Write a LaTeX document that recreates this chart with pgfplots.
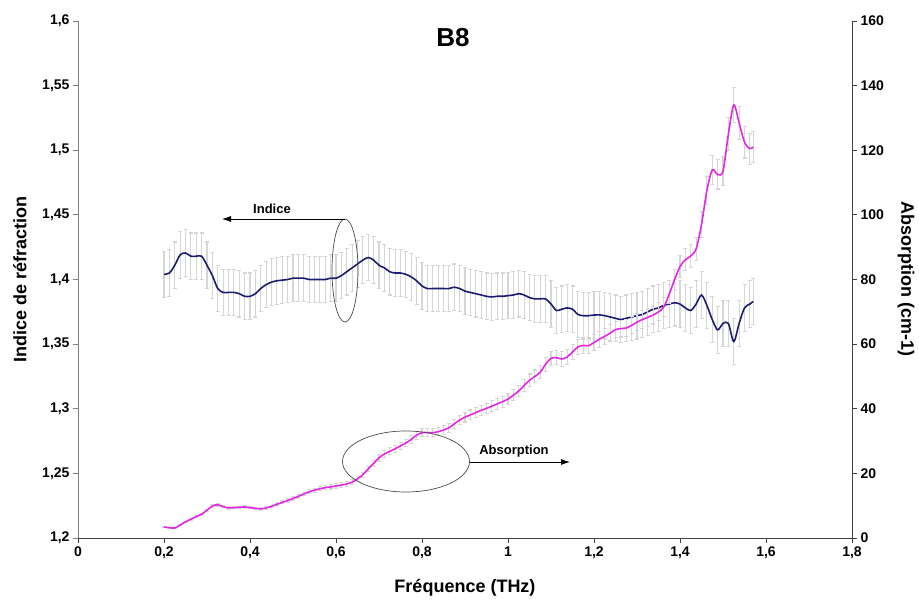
\documentclass[border=0pt]{standalone}
\usepackage{fontspec}
\setmainfont{Liberation Sans}
\usepackage{pgfplots}
\pgfplotsset{compat=1.18}
\usepackage{pgfplotstable}
\usetikzlibrary{arrows.meta}

\definecolor{indcol}{RGB}{28,28,112}
\definecolor{abscol}{RGB}{226,40,226}
\definecolor{errcol}{RGB}{214,214,214}

% refractive index (left axis)
\pgfplotstableread{
x n
0.2000 1.404
0.2125 1.405
0.2250 1.411
0.2375 1.419
0.2500 1.4205
0.2625 1.418
0.2750 1.418
0.2875 1.418
0.3000 1.411
0.3125 1.403
0.3250 1.393
0.3375 1.390
0.3500 1.390
0.3625 1.390
0.3750 1.389
0.3875 1.387
0.4000 1.387
0.4125 1.389
0.4250 1.393
0.4375 1.396
0.4500 1.398
0.4625 1.399
0.4750 1.3995
0.4875 1.400
0.5000 1.401
0.5125 1.401
0.5250 1.401
0.5375 1.400
0.5500 1.400
0.5625 1.400
0.5750 1.400
0.5875 1.401
0.6000 1.401
0.6125 1.403
0.6250 1.406
0.6375 1.409
0.6500 1.412
0.6625 1.415
0.6750 1.417
0.6875 1.415
0.7000 1.411
0.7125 1.409
0.7250 1.406
0.7375 1.405
0.7500 1.405
0.7625 1.404
0.7750 1.402
0.7875 1.399
0.8000 1.395
0.8125 1.393
0.8250 1.393
0.8375 1.393
0.8500 1.393
0.8625 1.393
0.8750 1.394
0.8875 1.393
0.9000 1.391
0.9125 1.390
0.9250 1.389
0.9375 1.388
0.9500 1.387
0.9625 1.3865
0.9750 1.387
0.9875 1.387
1.0000 1.3875
1.0125 1.388
1.0250 1.389
1.0375 1.388
1.0500 1.386
1.0625 1.385
1.0750 1.385
1.0875 1.385
1.1000 1.381
1.1125 1.376
1.1250 1.377
1.1375 1.378
1.1500 1.377
1.1625 1.373
1.1750 1.372
1.1875 1.372
1.2000 1.3725
1.2125 1.3726
1.2250 1.372
1.2375 1.371
1.2500 1.370
1.2625 1.369
1.2750 1.370
1.2875 1.371
1.3000 1.372
1.3125 1.373
1.3250 1.375
1.3375 1.377
1.3500 1.378
1.3625 1.380
1.3750 1.381
1.3875 1.382
1.4000 1.381
1.4125 1.378
1.4250 1.376
1.4375 1.381
1.4500 1.388
1.4625 1.380
1.4750 1.369
1.4875 1.361
1.5000 1.366
1.5125 1.366
1.5250 1.352
1.5375 1.366
1.5500 1.378
1.5625 1.381
1.5700 1.383
}\indice

% absorption in cm-1 (right axis)
\pgfplotstableread{
x a
0.2000 3.4
0.2125 3.2
0.2250 3.1
0.2375 4.0
0.2500 5.0
0.2625 5.8
0.2750 6.6
0.2875 7.4
0.3000 8.6
0.3125 9.9
0.3250 10.3
0.3375 9.7
0.3500 9.3
0.3625 9.4
0.3750 9.5
0.3875 9.6
0.4000 9.4
0.4125 9.2
0.4250 9.0
0.4375 9.3
0.4500 9.8
0.4625 10.4
0.4750 11.0
0.4875 11.6
0.5000 12.2
0.5125 12.9
0.5250 13.6
0.5375 14.3
0.5500 14.8
0.5625 15.2
0.5750 15.6
0.5875 15.8
0.6000 16.1
0.6125 16.4
0.6250 16.7
0.6375 17.3
0.6500 18.3
0.6625 19.6
0.6750 21.4
0.6875 23.1
0.7000 24.8
0.7125 26.0
0.7250 26.8
0.7375 27.6
0.7500 28.5
0.7625 29.4
0.7750 30.5
0.7875 31.8
0.8000 32.6
0.8125 32.6
0.8250 32.6
0.8375 32.9
0.8500 33.4
0.8625 34.1
0.8750 35.3
0.8875 36.5
0.9000 37.4
0.9125 38.1
0.9250 38.8
0.9375 39.5
0.9500 40.1
0.9625 40.8
0.9750 41.5
0.9875 42.2
1.0000 43.0
1.0125 44.2
1.0250 45.5
1.0375 47.2
1.0500 48.8
1.0625 50.0
1.0750 51.3
1.0875 53.8
1.1000 55.6
1.1125 55.8
1.1250 55.4
1.1375 56.0
1.1500 57.6
1.1625 59.1
1.1750 59.6
1.1875 59.5
1.2000 60.5
1.2125 61.5
1.2250 62.4
1.2375 63.4
1.2500 64.5
1.2625 64.8
1.2750 65.0
1.2875 65.8
1.3000 66.8
1.3125 67.6
1.3250 68.3
1.3375 69.0
1.3500 70.0
1.3625 71.5
1.3750 75.5
1.3875 80.0
1.4000 84.0
1.4125 86.1
1.4250 87.3
1.4375 89.5
1.4500 97.0
1.4625 107.5
1.4750 113.9
1.4875 112.5
1.5000 113.5
1.5125 125.0
1.5250 134.0
1.5375 128.5
1.5500 122.5
1.5625 120.5
1.5700 121.0
}\absorption

\pgfplotsset{
  common/.style={
    at={(78pt,64pt)}, anchor=south west,
    scale only axis, width=774pt, height=517pt,
    xmin=0, xmax=1.8,
    tick align=outside, major tick length=5pt,
    /pgf/number format/use comma,
    /pgf/number format/assume math mode=true,
    tick label style={font=\bfseries\fontsize{14}{16}\selectfont},
    label style={font=\bfseries\fontsize{18}{20}\selectfont},
  },
  errstyle/.style={
    draw=none, forget plot,
    error bars/y dir=both,
    error bars/error bar style={draw=errcol, line width=1.1pt},
    error bars/error mark options={draw=errcol, rotate=90, mark size=2pt, line width=1.1pt},
  },
}

\begin{document}
\begin{tikzpicture}
\useasboundingbox (0,0) rectangle (919pt,602pt);

\begin{axis}[common,
  axis x line*=bottom, axis y line*=left,
  x axis line style={draw=black!75, line width=0.9pt},
  y axis line style={draw=gray, line width=0.9pt},
  ymin=1.2, ymax=1.6,
  xtick distance=0.2, ytick distance=0.05,
  xtick style={draw=black!75, line width=0.9pt},
  ytick style={draw=gray, line width=0.9pt},
  xlabel={Fréquence (THz)},
  ylabel={Indice de réfraction},
  xlabel style={at={(axis description cs:0.5,-0.0967)}, anchor=center},
  ylabel style={at={(axis description cs:-0.075,0.5)}, anchor=center},
  title={B8},
  title style={at={(axis description cs:0.4845,0.957)}, anchor=center,
    font=\bfseries\fontsize{26}{28}\selectfont},
]
\addplot[errstyle, error bars/y fixed=0.018] table[x=x, y=n] {\indice};
\addplot[indcol, line width=1.6pt, smooth, mark=none] table[x=x, y=n] {\indice};
\end{axis}

\begin{axis}[common,
  axis x line=none, axis y line*=right,
  y axis line style={draw=black!75, line width=0.9pt},
  ytick style={draw=black!75, line width=0.9pt},
  ymin=0, ymax=160, ytick distance=20,
  ylabel={Absorption (cm-1)},
  ylabel style={at={(axis description cs:1.0698,0.5)}, anchor=center, rotate=180},
]
\addplot[errstyle, error bars/y fixed relative=0.04] table[x=x, y=a] {\absorption};
\addplot[abscol, line width=1.6pt, smooth, mark=none] table[x=x, y=a] {\absorption};
\end{axis}

% annotations
\draw[black!70, line width=0.7pt] (345pt,331.5pt) ellipse [x radius=13pt, y radius=51.5pt];
\draw[black, line width=0.8pt, -{Latex[length=9pt,width=6pt]}] (345pt,383pt) -- (222pt,383pt);
\node[font=\bfseries\fontsize{13}{15}\selectfont] at (272pt,393pt) {Indice};

\draw[black!70, line width=0.7pt] (406pt,140.5pt) ellipse [x radius=63.5pt, y radius=30.5pt];
\draw[black, line width=0.8pt, -{Latex[length=9pt,width=6pt]}] (470pt,140pt) -- (570pt,140pt);
\node[font=\bfseries\fontsize{13}{15}\selectfont] at (514pt,151pt) {Absorption};
\end{tikzpicture}
\end{document}
